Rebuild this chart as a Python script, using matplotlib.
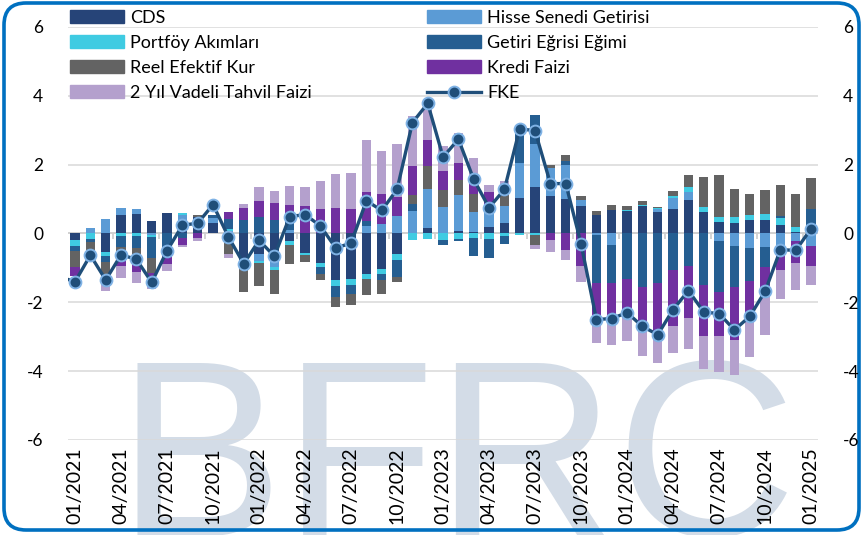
import matplotlib
matplotlib.use('Agg')
import matplotlib.pyplot as plt
import numpy as np
from matplotlib.patches import Patch, FancyBboxPatch
from matplotlib.lines import Line2D

plt.rcParams['font.family'] = ['Lato', 'DejaVu Sans']

# monthly, 01/2021 .. 01/2025
months = ['%02d/%d' % (m, y) for y in range(2021, 2026) for m in range(1, 13)][:49]

cds = [-0.2, 0, -0.55, 0.53, 0.57, 0.35, 0.6, 0.4, 0.48, 0.3,
       0, -0.85, -0.6, -0.58, -0.22, -0.56, -0.85, -1.36, -1.32, -1.17,
       -1.04, -0.61, 0, 0.15, 0, 0.08, 0.05, 0.2, 0.31, 1.02,
       1.35, 1.1, 1.0, 0.8, 0.53, 0.68, 0.65, 0.8, 0.62, 0.7,
       0.97, 0.63, 0.33, 0.31, 0.38, 0.38, 0.24, 0.04, 0]
hisse = [0, 0.17, 0.42, 0.2, 0.15, -0.05, 0, 0.15, 0, 0.15,
         0.08, 0, -0.2, -0.4, 0.1, 0, 0, 0, 0, 0.22,
         0.28, 0.51, 0.65, 1.14, 0.76, 1.04, 0.58, 0.42, 0.49, 1.02,
         1.24, 0.8, 1.0, 0.17, -0.05, -0.33, 0, 0, 0.1, 0.33,
         0.24, 0, -0.22, -0.37, -0.42, -0.39, -0.47, -0.22, -0.35]
portfoy = [-0.17, -0.15, -0.1, -0.08, -0.07, -0.05, 0, 0.05, 0, 0,
           0.05, 0, -0.06, -0.07, -0.12, -0.07, -0.12, -0.17, -0.17, -0.15,
           -0.15, -0.17, -0.2, -0.15, -0.19, -0.15, -0.12, -0.15, -0.08, -0.05,
           -0.03, 0, 0, 0, 0, 0, 0.03, 0.04, 0.03, 0.05,
           0.15, 0.15, 0.15, 0.17, 0.17, 0.2, 0.21, 0.16, 0]
getiri = [-0.15, -0.1, -0.18, -0.3, -0.35, -0.6, -0.65, -0.12, 0, 0.1,
          0.3, 0.4, 0.48, 0.38, 0.3, 0, -0.2, -0.31, -0.26, 0.13,
          -0.17, -0.47, 0.2, 0, -0.15, -0.08, -0.53, -0.56, -0.22, 1.05,
          0.85, 0, 0.1, 0, -1.4, -1.1, -1.32, -1.55, -1.45, -1.05,
          -0.93, -1.51, -1.48, -1.17, -0.97, -0.58, 0.07, 0, 0.7]
reel = [-0.44, -0.45, -0.4, -0.2, -0.4, -0.45, 0, 0, 0.07, 0,
        -0.6, -0.85, -0.66, -0.72, -0.55, -0.2, -0.18, -0.3, -0.32, -0.46,
        -0.39, -0.15, 0.28, 0.68, 0.49, 0.44, 0.53, 0.08, 0.6, 0,
        -0.3, 0.1, 0.17, 0.13, 0.12, 0.14, 0.12, 0.1, 0.02, 0.15,
        0.33, 0.87, 1.21, 0.8, 0.6, 0.67, 0.9, 0.95, 0.9]
kredi = [-0.27, 0, 0, -0.35, -0.31, -0.15, -0.25, -0.2, -0.12, 0,
         0.2, 0.35, 0.46, 0.51, 0.42, 0.8, 0.72, 0.74, 0.7, 0.87,
         0.86, 0.55, 0.83, 0.76, 0.58, 0.5, 0.49, 0.5, 0, 0,
         0, -0.2, -0.47, -0.95, -1.1, -0.95, -1.0, -1.1, -1.4, -1.63,
         -1.52, -1.48, -1.28, -1.55, -1.12, -0.76, -0.6, -0.63, -0.58]
tahvil2y = [0, 0, -0.45, -0.37, -0.32, -0.3, -0.18, -0.08, -0.1, 0,
            -0.12, 0.1, 0.4, 0.34, 0.57, 0.56, 0.8, 1.0, 1.05, 1.5,
            1.27, 1.53, 1.44, 0.92, 0.7, 0.85, 0.53, 0.2, 0.13, 0,
            -0.12, -0.33, -0.31, -0.47, -0.62, -0.87, -0.8, -0.92, -0.9, -0.78,
            -0.92, -0.95, -1.05, -1.02, -1.07, -1.21, -0.83, -0.8, -0.58]

# FKE starts one month earlier (12/2020), first point falls outside the axis
fke = [-1.26,
       -1.4, -0.63, -1.35, -0.62, -0.75, -1.42, -0.5, 0.24, 0.3, 0.84,
       -0.1, -0.88, -0.2, -0.66, 0.49, 0.55, 0.22, -0.42, -0.28, 0.95,
       0.67, 1.28, 3.22, 3.78, 2.22, 2.74, 1.57, 0.75, 1.28, 3.05,
       2.98, 1.45, 1.45, -0.3, -2.5, -2.47, -2.3, -2.7, -2.94, -2.21,
       -1.66, -2.28, -2.33, -2.8, -2.41, -1.68, -0.47, -0.49, 0.14]

series = [
    ('CDS', cds, '#264478'),
    ('Hisse Senedi Getirisi', hisse, '#5b9bd5'),
    ('Portföy Akımları', portfoy, '#3fcbe2'),
    ('Getiri Eğrisi Eğimi', getiri, '#255e91'),
    ('Reel Efektif Kur', reel, '#636363'),
    ('Kredi Faizi', kredi, '#7030a0'),
    ('2 Yıl Vadeli Tahvil Faizi', tahvil2y, '#b4a0cd'),
]

W, H = 863, 535
fig = plt.figure(figsize=(W / 100, H / 100), dpi=100)
fig.patch.set_facecolor('white')

# background layer in pixel coords: watermark + rounded frame
bg = fig.add_axes([0, 0, 1, 1], zorder=-1)
bg.set_xlim(0, W)
bg.set_ylim(H, 0)
bg.axis('off')
bg.text(116, 536, 'BFRC', fontsize=180, family='Liberation Sans', color='#d3dce7',
        ha='left', va='baseline')
bg.add_patch(FancyBboxPatch((4, 3), 855, 527, boxstyle='round,pad=0,rounding_size=22',
                            ec='#0070c0', fc='none', lw=2.6, zorder=5))

ax = fig.add_axes([68 / W, 1 - 440 / H, 750 / W, 413 / H])
ax.set_facecolor('none')

x = np.arange(len(months))
pos = np.zeros(len(months))
neg = np.zeros(len(months))
for name, vals, col in series:
    v = np.array(vals, dtype=float)
    base = np.where(v >= 0, pos, neg)
    ax.bar(x, v, 0.6, bottom=base, color=col, zorder=2, linewidth=0)
    pos += np.where(v >= 0, v, 0)
    neg += np.where(v < 0, v, 0)

xf = np.arange(-1, len(months))
ax.plot(xf, fke, color='#1f4e79', lw=2.4, marker='o', ms=8.5,
        mfc='#1f4e79', mec='#7fb2e5', mew=1.4, zorder=4)

ax.set_xlim(-0.46, 48.45)
ax.set_ylim(-6, 6)
ax.set_yticks([-6, -4, -2, 0, 2, 4, 6])
ax.set_yticklabels(['-6', '-4', '-2', '0', '2', '4', '6'])
ax.grid(axis='y', color='#d9d9d9', lw=1.1, zorder=0)
ax.set_axisbelow(True)
for s in ax.spines.values():
    s.set_visible(False)

# category axis at zero with small ticks every quarter
ax.axhline(0, color='#d0d0d0', lw=1.3, zorder=1)
ax.vlines(np.arange(-0.5, 48, 3), -0.15, 0, color='#d0d0d0', lw=1.3, zorder=1)

ax.set_xticks(x[::3])
ax.set_xticklabels(months[::3], rotation=90, fontsize=14)
ax.tick_params(axis='x', length=0, pad=5)
ax.tick_params(axis='y', length=0, pad=18, labelsize=12.5, labelright=True)

col1 = [Patch(color=series[i][2], label=series[i][0]) for i in (0, 2, 4, 6)]
col2 = [Patch(color=series[i][2], label=series[i][0]) for i in (1, 3, 5)]
col2.append(Line2D([], [], color='#1f4e79', lw=2.4, marker='o', ms=8.5,
                   mfc='#1f4e79', mec='#7fb2e5', mew=1.4, label='FKE'))

leg_kw = dict(frameon=False, fontsize=13, handlelength=3.0, handleheight=0.75,
              handletextpad=0.35, labelspacing=0.5, borderpad=0, borderaxespad=0,
              loc='upper left', bbox_transform=fig.transFigure)
leg1 = ax.legend(handles=col1, bbox_to_anchor=(70 / W, 1 - 10 / H), **leg_kw)
ax.add_artist(leg1)
ax.legend(handles=col2, bbox_to_anchor=(427 / W, 1 - 10 / H), **leg_kw)

fig.savefig('out.png', dpi=100)
